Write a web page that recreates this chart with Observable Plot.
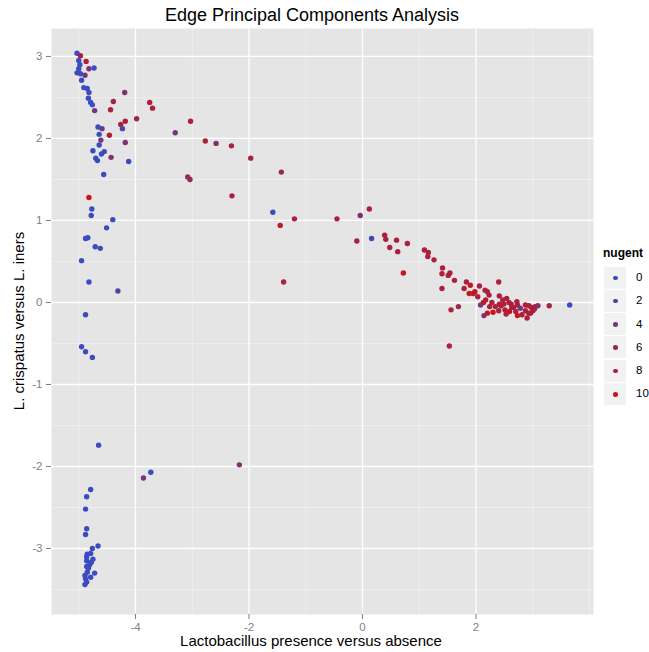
<!DOCTYPE html>
<html><head><meta charset="utf-8">
<script src="https://cdn.jsdelivr.net/npm/d3@7"></script>
<script src="https://cdn.jsdelivr.net/npm/@observablehq/plot@0.6"></script>
<style>
body{margin:0;background:#fff;font-family:"Liberation Sans",Arial,Helvetica,sans-serif;}
#wrap{position:relative;width:649px;height:652px;overflow:hidden;}
#title{height:28px;width:624px;text-align:center;font-size:18px;line-height:30px;color:#000;}
#ylab{position:absolute;left:18px;top:321px;transform:translate(-50%,-50%) rotate(-90deg);white-space:nowrap;font-size:15px;}
#xlab{position:absolute;left:0;top:632px;width:622px;text-align:center;font-size:15px;line-height:18px;}
#legend{position:absolute;left:603px;top:245px;}
#legend .lt{font-weight:bold;font-size:12px;line-height:16px;margin-bottom:5px;}
#legend .row{position:relative;height:23.3px;}
#legend .key{position:absolute;left:1px;top:0.6px;width:22px;height:22px;background:#F2F2F2;}
#legend .key i{position:absolute;left:9px;top:9px;width:4.5px;height:4.5px;border-radius:50%;}
#legend .lab{position:absolute;left:33px;top:3px;font-size:11.5px;line-height:16px;white-space:nowrap;}
</style></head>
<body><div id="wrap">
<div id="title">Edge Principal Components Analysis</div>
<div id="plot"></div>
<div id="ylab">L. crispatus versus L. iners</div>
<div id="xlab">Lactobacillus presence versus absence</div>
<div id="legend"></div>
</div>
<script>
// PC1 (Lactobacillus presence versus absence)
const pc1 = [
-5.03,-4.97,-5.00,-4.87,-4.98,-4.82,-4.73,-5.00,-5.03,-4.97,-4.89,-4.95,-4.91,-4.85,-4.82,-4.83,-4.79,-4.76,-4.72,-4.19,
-4.39,-4.44,-3.98,-4.18,-4.26,-4.23,-4.66,-4.59,-4.46,-4.64,-4.61,-4.64,-4.18,-4.75,-4.55,-4.60,-4.43,-4.70,-4.67,-4.12,
-3.75,-3.70,-3.03,-3.30,-2.77,-2.58,-4.56,-3.08,-3.04,-4.82,-4.77,-4.78,-4.40,-4.51,-4.88,-4.84,-4.71,-4.62,-4.95,-4.82,
-4.31,-4.88,-4.95,-4.88,-4.76,-4.65,-3.73,-3.86,-4.79,-4.86,-4.88,-4.86,-4.88,-4.66,-4.76,-4.79,-4.86,-4.75,-4.86,-4.81,
-4.86,-4.72,-4.85,-4.79,-4.88,-4.86,-4.89,-4.83,-4.78,-4.85,-4.89,-2.17,
-2.31,-1.97,-1.43,-2.30,-1.58,-1.20,-1.45,-0.45,-0.04,0.12,-0.10,0.16,0.39,0.41,0.60,0.48,0.62,-1.39,0.79,0.72,
1.09,1.16,1.15,1.26,1.41,1.40,1.51,1.54,1.62,1.40,1.56,1.69,1.53,1.83,1.90,1.79,1.88,1.95,1.98,2.06,
2.16,2.20,2.23,2.40,2.17,2.13,2.08,2.28,2.24,2.34,2.20,2.14,2.30,2.41,2.47,2.54,2.41,2.49,2.58,2.40,
2.51,2.59,2.53,2.66,2.72,2.73,2.78,2.70,2.73,2.81,2.87,2.93,2.98,2.87,2.93,2.90,3.00,3.04,3.09,3.29,
3.65,2.62,2.44,2.63,2.96,3.03,2.03
];
// PC2 (L. crispatus versus L. iners)
const pc2 = [
3.04,3.01,2.95,2.94,2.90,2.85,2.86,2.85,2.80,2.79,2.77,2.71,2.62,2.61,2.56,2.49,2.44,2.41,2.34,2.56,
2.45,2.35,2.24,2.21,2.17,2.12,2.14,2.12,2.04,2.05,1.98,1.92,1.95,1.85,1.84,1.81,1.77,1.76,1.73,1.72,
2.44,2.37,2.21,2.07,1.97,1.94,1.56,1.53,1.50,1.28,1.14,1.06,1.01,0.91,0.78,0.79,0.68,0.66,0.51,0.25,
0.14,-0.15,-0.54,-0.60,-0.67,-1.74,-2.07,-2.14,-2.28,-2.37,-2.52,-2.76,-2.83,-2.97,-3.00,-3.06,-3.10,-3.13,-3.15,-3.20,
-3.22,-3.30,-3.29,-3.35,-3.37,-3.41,-3.44,-3.24,-3.17,-3.07,-3.33,-1.98,
1.91,1.76,1.59,1.30,1.10,1.02,0.94,1.02,1.06,1.14,0.75,0.78,0.82,0.77,0.76,0.67,0.62,0.25,0.72,0.36,
0.64,0.61,0.56,0.52,0.42,0.35,0.33,0.36,0.27,0.17,-0.09,-0.05,-0.53,0.25,0.21,0.17,0.11,0.11,0.13,0.20,
0.15,0.13,0.09,0.25,0.03,0.00,-0.03,0.00,-0.05,-0.05,-0.13,-0.16,-0.12,0.08,0.03,0.05,-0.02,-0.02,0.00,-0.10,
-0.09,-0.11,-0.14,-0.06,0.01,-0.03,-0.07,-0.11,-0.16,-0.15,-0.03,-0.04,-0.06,-0.10,-0.13,-0.19,-0.10,-0.05,-0.04,-0.04,
-0.03,-0.02,-0.04,-0.06,-0.13,-0.08,0.07
];
// Nugent score of each sample
const nugent = [
0,8,0,8,0,5,0,0,0,0,4,0,0,0,0,0,0,0,4,5,
7,8,7,8,8,1,0,3,8,0,4,0,5,0,0,0,5,0,0,0,
8,8,8,4,8,5,0,5,7,10,0,0,0,0,0,0,0,0,0,0,
2,0,0,0,0,0,0,4,0,0,0,0,0,0,0,0,0,0,0,0,
0,0,0,0,0,0,0,0,0,0,0,5,
8,8,6,8,0,8,9,8,5,8,8,1,8,8,8,8,8,8,8,10,
8,8,8,8,8,8,8,8,8,8,8,7,8,8,10,8,10,8,10,8,
8,8,8,8,8,10,4,8,8,8,10,5,10,8,8,8,8,9,8,8,
8,10,8,8,8,8,4,8,10,8,8,8,8,8,8,8,8,8,5,8,
0,8,8,8,8,8,8
];
const xMajor = [-4, -2, 0, 2];
const xMinor = [-5, -3, -1, 1, 3, 4];
const yMajor = [-3, -2, -1, 0, 1, 2, 3];
const yMinor = [-3.5, -2.5, -1.5, -0.5, 0.5, 1.5, 2.5];
const legendValues = [0, 2, 4, 6, 8, 10];
const LOW = "#3B4CC0", HIGH = "#C9141C";

const data = pc1.map((x, i) => ({x, y: pc2[i], nugent: nugent[i]}));

const axisStyle = {color: "#7F7F7F", fontSize: 11.5, tickSize: 5, label: null, tickFormat: d => String(d)};
const plot = Plot.plot({
  width: 649, height: 624,
  marginLeft: 51, marginRight: 56, marginTop: 0, marginBottom: 38,
  style: {fontFamily: '"Liberation Sans", Arial, sans-serif', background: "transparent"},
  x: {domain: [-5.48, 4.07]},
  y: {domain: [-3.805, 3.341]},
  color: {type: "linear", domain: [0, 10], range: [LOW, HIGH], interpolate: "rgb"},
  marks: [
    Plot.frame({fill: "#E5E5E5", stroke: null}),
    Plot.ruleX(xMinor, {stroke: "#F2F2F2", strokeWidth: 0.7}),
    Plot.ruleY(yMinor, {stroke: "#F2F2F2", strokeWidth: 0.7}),
    Plot.ruleX(xMajor, {stroke: "#FFFFFF", strokeWidth: 1.3}),
    Plot.ruleY(yMajor, {stroke: "#FFFFFF", strokeWidth: 1.3}),
    Plot.dot(data, {x: "x", y: "y", fill: "nugent", r: 2.7, stroke: null}),
    Plot.axisX(xMajor, {...axisStyle, tickPadding: 3}),
    Plot.axisY(yMajor, {...axisStyle, tickPadding: 4})
  ]
});
document.getElementById("plot").appendChild(plot);

const interp = d3.interpolateRgb(LOW, HIGH);
const lg = document.getElementById("legend");
let html = '<div class="lt">nugent</div>';
for (const v of legendValues) {
  html += `<div class="row"><div class="key"><i style="background:${interp(v / 10)}"></i></div><div class="lab">${v}</div></div>`;
}
lg.innerHTML = html;
</script>
</body></html>
